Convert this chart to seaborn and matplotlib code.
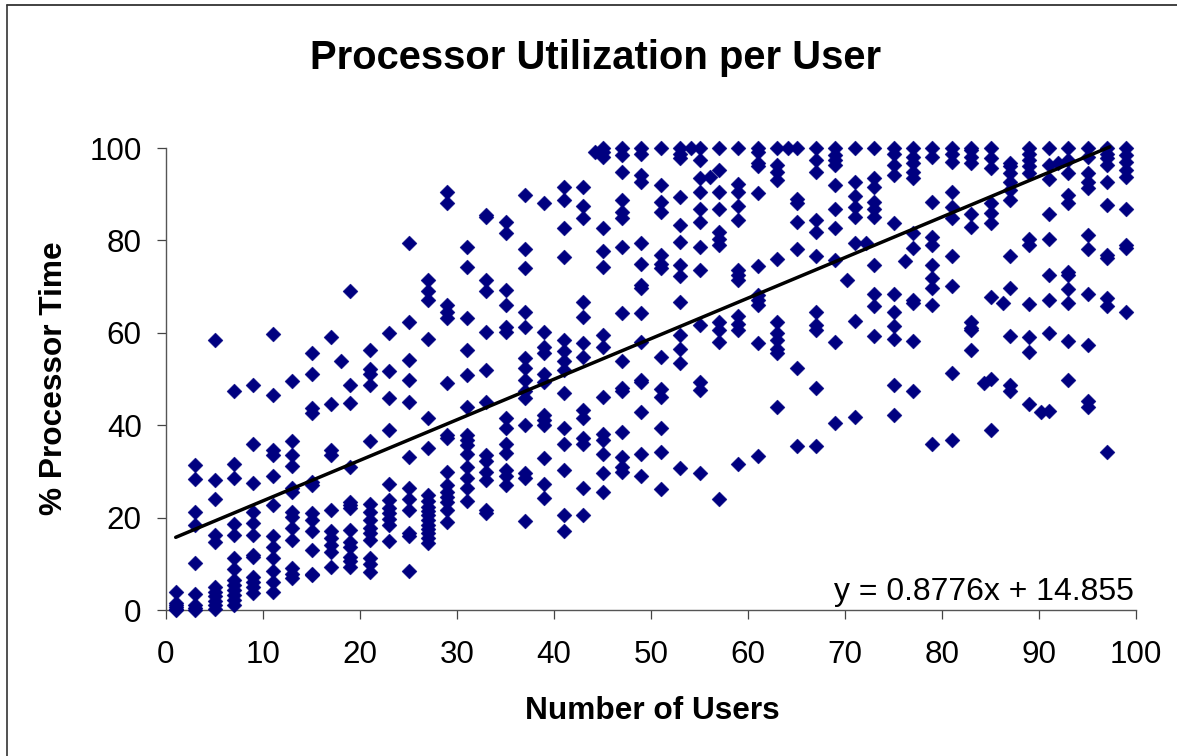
import numpy as np
import pandas as pd
import seaborn as sns
import matplotlib.pyplot as plt
from matplotlib.lines import Line2D

users = [1, 3, 5, 7, 9, 11, 13, 15, 17, 18, 19, 21, 23, 25, 27, 29, 31, 33, 35, 37,
         39, 41, 43, 44.2, 45, 47, 49, 51, 53, 54.1, 55, 56.1, 57, 59, 61, 63, 64.1, 65, 67, 69,
         70.2, 71, 72.2, 73, 75, 76.2, 77, 79, 81, 83, 84.3, 85, 86.3, 87, 89, 90.2, 91, 92, 93, 95, 97, 99]

u01 = [0, 0.3, 0.6, 1, 1.5, 4]
u03 = [0, 0.5, 1, 3.4, 10.2, 18.4, 21.3, 28.3, 31.4]
u05 = [0.3, 1, 2, 3, 4, 5, 14.8, 16.2, 24, 28.1, 58.5]
u07 = [1.1, 2.2, 3.2, 4.3, 5.4, 6.5, 8.8, 11.3, 16.2, 18.6, 28.5, 31.7, 47.3]
u09 = [3.6, 4.9, 6.1, 7.2, 11.5, 11.9, 16.2, 18.8, 21.3, 27.4, 35.9, 48.7]
u11 = [4, 6.1, 8.4, 11.3, 13.7, 16, 22.7, 28.9, 33.5, 34.6, 46.5, 59.7]
u13 = [6.9, 7.9, 9, 15.2, 17.7, 20.2, 21.3, 25.6, 26.3, 31.2, 33.5, 36.6, 49.5]
u15 = [7.6, 7.9, 13, 17, 19.5, 20.9, 27, 27.8, 42.6, 43.7, 51, 55.6]
u17 = [9.2, 12.6, 14, 15.5, 17.2, 21.6, 33.5, 34.6, 44.5, 59]
u18 = [54]
u19 = [9.4, 10.5, 11.5, 13.7, 14.8, 17.3, 22, 22.7, 23.4, 31, 44.7, 48.7, 69]
u21 = [8.3, 10, 11.2, 15.2, 16.6, 17.7, 19.5, 21.3, 23, 36.6, 48.7, 51, 52.1, 56.3]
u23 = [15, 18.4, 19.8, 20.9, 22, 23.8, 27.2, 39, 45.8, 51.8, 60]
u25 = [8.5, 16, 16.6, 21.6, 24, 26.5, 33.2, 45, 49.7, 54.1, 62.4, 79.4]
u27 = [14.6, 15.5, 16.6, 17.5, 18.4, 19.5, 20.6, 21.5, 22.4, 23.6, 25, 35.1, 41.5, 58.6, 67, 69, 71.4]
u29 = [19.1, 21.6, 23.4, 24.5, 25.6, 27, 29.9, 37.2, 37.9, 49.1, 63.1, 64.4, 66, 88, 90.5]
u31 = [23.6, 26.5, 28.6, 31, 33.7, 35.7, 36.8, 37.9, 43.9, 50.8, 56.3, 63.1, 74.3, 78.6]
u33 = [20.9, 21.6, 28.1, 29.9, 32.3, 33.5, 45, 51.9, 60.2, 69, 71.4, 85.1, 85.6]
u35 = [27, 28.9, 30.3, 33.9, 35.9, 39.3, 41.5, 60.2, 61.3, 66, 69.3, 81.7, 84]
u37 = [19.3, 28.5, 29.6, 40, 45.8, 47.3, 49.8, 52.3, 54.5, 61.3, 64.6, 74, 78.1, 89.8]
u39 = [24.3, 27.2, 33, 40, 41.1, 42.2, 49.4, 51, 55.6, 57, 60.1, 88]
u41 = [17.2, 20.6, 30.3, 35.9, 39.3, 46.9, 52, 54, 56.1, 58.4, 76.3, 82.6, 88.7, 91.6]
u43 = [20.6, 26.5, 36, 37.2, 41.5, 43.3, 54.8, 57.7, 63.5, 66.6, 84.8, 87.4, 91.6]
u44 = [99.2]
u45 = [25.5, 29.6, 33.7, 36.8, 38, 46, 57, 59.5, 74.3, 77.7, 82.6, 98, 99.2, 99.9]
u47 = [29.9, 31, 33.2, 38.6, 47.3, 48, 53.8, 64.2, 78.5, 84.8, 86.2, 88.7, 94.7, 98.5, 100]
u49 = [29, 33.7, 42.9, 49.4, 49.8, 58.1, 64.2, 69.6, 70.3, 74.9, 79.4, 92.7, 94.2, 98.8, 99.9]
u51 = [26.2, 34.1, 39.3, 46.2, 47.8, 54.8, 74, 75, 76.8, 86.2, 88.4, 92, 99.9]
u53 = [30.7, 53.5, 56.6, 59.5, 66.6, 72.2, 74.7, 79.7, 83.3, 89.5, 97.8, 98.8, 100]
u54 = [100]
u55 = [29.6, 47.6, 49.4, 61.7, 73.6, 78.6, 84, 86.9, 90.5, 93.4, 97.4, 99.9]
u56 = [93.7]
u57 = [24, 58.1, 60.6, 62.4, 79, 80.4, 81.8, 86.9, 90.5, 95.2, 100]
u59 = [31.7, 60.6, 62, 63.7, 71.4, 72.5, 73.6, 84.4, 87.4, 90.5, 92.3, 100]
u61 = [33.4, 57.9, 66, 67, 68.2, 74.5, 90.2, 96, 96.7, 99.2, 100]
u63 = [43.9, 55.6, 56.6, 58.4, 60, 62.4, 75.9, 93, 94.9, 96.3, 100]
u64 = [100]
u65 = [35.6, 52.3, 78.1, 83.9, 88, 88.9, 100]
u67 = [35.6, 48, 60.6, 61.7, 64.6, 76.7, 81.9, 84.4, 94.9, 97.4, 100]
u69 = [40.4, 58.1, 75.8, 82.6, 86.7, 92, 96.3, 97.4, 98.5, 100]
u70 = [71.4]
u71 = [41.8, 62.6, 79.4, 85, 87.3, 89.6, 92.6, 100]
u72 = [79.5]
u73 = [59.3, 65.7, 68.4, 74.7, 85, 86.9, 88.4, 91.6, 93.4, 100]
u75 = [42.2, 48.7, 58.6, 61.5, 64.6, 68.4, 83.7, 94.2, 96.3, 98.8, 100]
u76 = [75.6]
u77 = [47.3, 58.3, 66.4, 67.1, 78.3, 81.5, 93.4, 94.9, 96.7, 98.1, 100]
u79 = [35.9, 66, 69.6, 71.8, 74.7, 79, 80.8, 88.4, 98.1, 100]
u81 = [36.9, 51.4, 70.1, 76.7, 84.8, 87.3, 90.5, 97, 98.8, 100]
u83 = [56.3, 60.6, 61, 62.4, 82.8, 85.7, 96.7, 98, 99.6, 100]
u84 = [49.1]
u85 = [39, 50.1, 67.7, 83.7, 86, 88, 95.6, 97.8, 100]
u86 = [66.4]
u87 = [47.3, 48.7, 59.4, 69.8, 76.7, 88.7, 90.9, 92.7, 94.5, 96, 96.7]
u89 = [44.5, 55.9, 59, 66.2, 79, 80.4, 94.5, 96, 97.4, 98.8, 100]
u90 = [42.8]
u91 = [43.1, 60, 67, 72.5, 80.4, 85.7, 93.2, 96.3, 100]
u92 = [96.7]
u93 = [49.8, 58.3, 66.4, 69.4, 72.5, 73.2, 88, 89.8, 94.5, 97.4, 100]
u95 = [44, 45.2, 57.4, 68.4, 78.1, 81.2, 91.3, 92.7, 94.5, 98, 100]
u97 = [34.1, 65.7, 67.5, 76.1, 76.8, 87.7, 92.6, 96.3, 97.8, 98.8, 100]
u99 = [64.6, 78.3, 79, 86.9, 93.8, 95.2, 97, 98.5, 100]

columns = [u01, u03, u05, u07, u09, u11, u13, u15, u17, u18, u19, u21, u23, u25, u27, u29, u31, u33, u35, u37,
           u39, u41, u43, u44, u45, u47, u49, u51, u53, u54, u55, u56, u57, u59, u61, u63, u64, u65, u67, u69,
           u70, u71, u72, u73, u75, u76, u77, u79, u81, u83, u84, u85, u86, u87, u89, u90, u91, u92, u93, u95, u97, u99]

slope = 0.8776
intercept = 14.855
trend_range = [1, 97.3]

rows = [(u, v) for u, col in zip(users, columns) for v in col]
df = pd.DataFrame(rows, columns=["users", "cpu"])
trend = pd.DataFrame({"users": trend_range})
trend["cpu"] = slope * trend["users"] + intercept

sns.set_style("white")
plt.rcParams["font.family"] = ["Liberation Sans", "DejaVu Sans"]
plt.rcParams["text.color"] = "black"
plt.rcParams["xtick.labelcolor"] = "black"
plt.rcParams["ytick.labelcolor"] = "black"

W, H = 1177, 756
fig = plt.figure(figsize=(W / 100, H / 100), dpi=100)
ax = fig.add_axes([166 / W, 1 - 610 / H, 970 / W, 462 / H])

sns.scatterplot(data=df, x="users", y="cpu", marker="D", s=58, color="#000080",
                edgecolor="#000080", linewidth=0.3, ax=ax, clip_on=False, zorder=3)
sns.lineplot(data=trend, x="users", y="cpu", color="black", linewidth=2.5, ax=ax, zorder=4, clip_on=False)

ax.set_xlim(0, 100)
ax.set_ylim(0, 100)
ax.set_xticks(range(0, 101, 10))
ax.set_yticks(range(0, 101, 20))
ax.tick_params(axis="both", direction="out", length=6.5, width=0.9, color="#444444", labelsize=22.6,
               left=True, bottom=True, pad=11)
ax.tick_params(axis="x", pad=15)
for side in ["top", "right"]:
    ax.spines[side].set_visible(False)
for side in ["left", "bottom"]:
    ax.spines[side].set_color("#555555")
    ax.spines[side].set_linewidth(1)

ax.set_xlabel("")
ax.set_ylabel("")
fig.text(652 / W, 1 - 711 / H, "Number of Users", fontsize=22.8, fontweight="bold", ha="center", va="center")
fig.text(54 / W, 1 - 378 / H, "% Processor Time", fontsize=22.8, fontweight="bold", ha="center", va="center", rotation=90)
fig.text(596 / W, 1 - 58 / H, "Processor Utilization per User", fontsize=28.8, fontweight="bold", ha="center", va="center")
fig.text(984 / W, 1 - 592 / H, "y = 0.8776x + 14.855", fontsize=23, ha="center", va="center")

# only the top and left edges of the chart frame are in the picture
fig.add_artist(Line2D([7 / W, 7 / W], [0, 1 - 5 / H], transform=fig.transFigure, color="#222222", linewidth=1.1))
fig.add_artist(Line2D([7 / W, 1], [1 - 5 / H, 1 - 5 / H], transform=fig.transFigure, color="#333333", linewidth=1.3))

fig.savefig("out.png", dpi=100)
plt.close(fig)
